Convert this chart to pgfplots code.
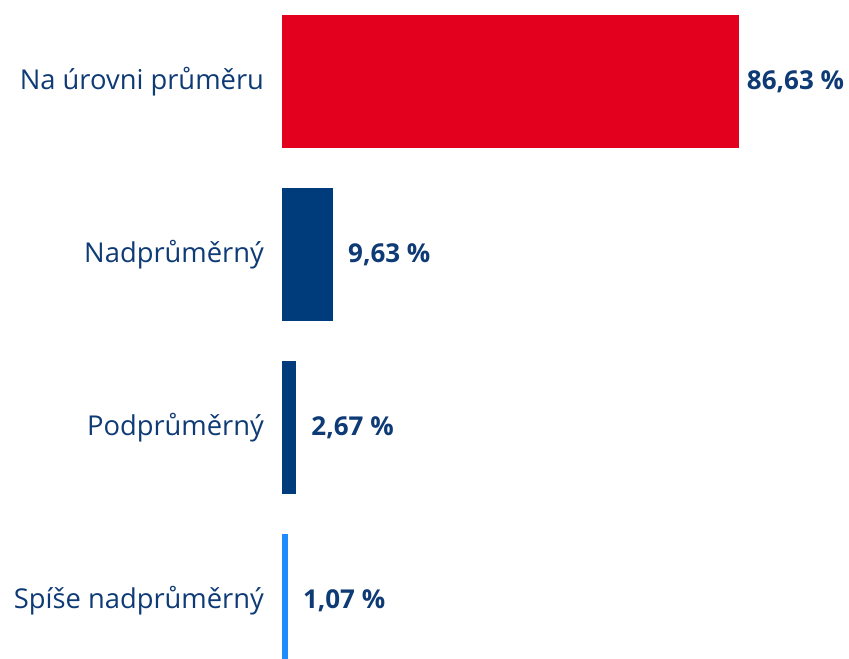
\documentclass[border=0pt]{standalone}
\usepackage{fontspec}
\setmainfont{Open Sans}
\usepackage{pgfplots}
\pgfplotsset{compat=1.18}
\definecolor{barred}{HTML}{E3001E}
\definecolor{bardark}{HTML}{003C7C}
\definecolor{barlight}{HTML}{1E8CFF}
\definecolor{txtblue}{HTML}{0E3A75}
\begin{document}
\begin{tikzpicture}[x=0.75pt,y=0.75pt]
\begin{axis}[
  scale only axis,
  width=425.25pt, height=493.5pt,
  xbar, bar shift=0pt, bar width=0.769,
  y dir=reverse,
  xmin=0, xmax=107.5,
  ymin=-0.471, ymax=3.332,
  axis line style={draw=none},
  major tick length=0pt,
  xtick=\empty,
  ytick={0,1,2,3},
  yticklabels={Na úrovni průměru, Nadprůměrný, Podprůměrný, Spíše nadprůměrný},
  yticklabel style={font=\fontsize{20.5}{24}\selectfont, text=txtblue, xshift=-10pt},
  point meta=x,
  nodes near coords={\pgfmathprintnumber[use comma, fixed, fixed zerofill, precision=2, assume math mode=true]{\pgfplotspointmeta}~\%},
  nodes near coords style={font=\bfseries\fontsize{19.5}{23}\selectfont, text=txtblue, anchor=west, xshift=8pt},
  every axis plot/.append style={draw=none},
  clip mode=individual,
]
\addplot[fill=barred, nodes near coords style={xshift=-5.5pt}] coordinates {(86.63,0)};
\addplot[fill=bardark] coordinates {(9.63,1)};
\addplot[fill=bardark] coordinates {(2.67,2)};
\addplot[fill=barlight] coordinates {(1.07,3)};
\end{axis}
\pgfresetboundingbox
\path ([xshift=-211.5pt]current axis.south west) rectangle (current axis.north east);
\end{tikzpicture}
\end{document}
